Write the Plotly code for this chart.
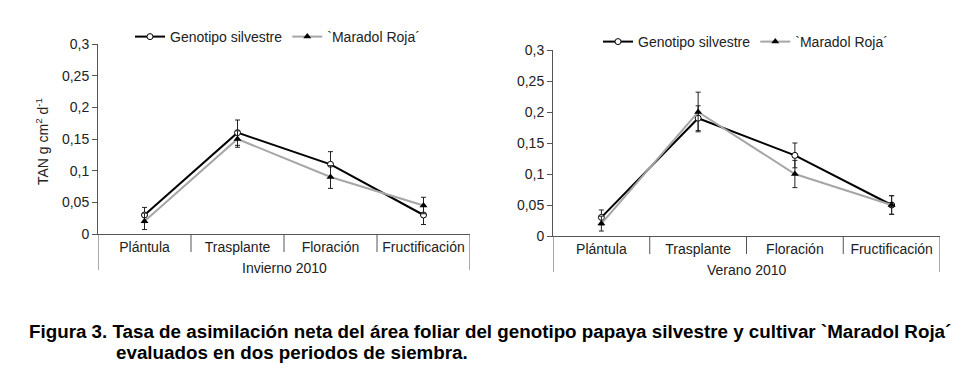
import plotly.graph_objects as go

# ---------------- data ----------------
etapas = ["Plántula", "Trasplante", "Floración", "Fructificación"]
series_names = ["Genotipo silvestre", "`Maradol Roja´"]

invierno_silvestre = [0.03, 0.16, 0.11, 0.03]
invierno_silvestre_err = [0.012, 0.02, 0.02, 0.015]
invierno_maradol = [0.02, 0.15, 0.09, 0.045]
invierno_maradol_err = [0.013, 0.013, 0.018, 0.013]

verano_silvestre = [0.03, 0.19, 0.13, 0.05]
verano_silvestre_err = [0.012, 0.02, 0.02, 0.015]
verano_maradol = [0.02, 0.20, 0.10, 0.05]
verano_maradol_err = [0.012, 0.032, 0.022, 0.015]

panel_titles = ["Invierno 2010", "Verano 2010"]
y_ticks = [0, 0.05, 0.1, 0.15, 0.2, 0.25, 0.3]
y_title = "TAN g cm<sup>2</sup> d<sup>-1</sup>"
caption1 = "Figura 3. Tasa de asimilación neta del área foliar del genotipo papaya silvestre y cultivar `Maradol Roja´"
caption2 = "evaluados en dos periodos de siembra."

# ---------------- layout constants (pixels) ----------------
W, H = 973, 387
FONT = "Liberation Sans, Arial, sans-serif"
AXC = "#555555"
TXT = "#222222"
GRAY = "#a6a6a6"

panels = [
    dict(x0=98, x1=470, ytop=44, ybot=234, data=(invierno_silvestre, invierno_silvestre_err,
                                                 invierno_maradol, invierno_maradol_err)),
    dict(x0=553, x1=940, ytop=50, ybot=236, data=(verano_silvestre, verano_silvestre_err,
                                                  verano_maradol, verano_maradol_err)),
]

fig = go.Figure()
xs = list(range(len(etapas)))
shapes = []
annotations = []

for i, p in enumerate(panels):
    ax = "" if i == 0 else str(i + 1)
    xname, yname = "x" + ax, "y" + ax
    leg = "legend" if i == 0 else "legend2"
    s, se, m, me = p["data"]
    fig.add_trace(go.Scatter(
        x=xs, y=s, mode="lines+markers", name=series_names[0],
        line=dict(color="black", width=2),
        marker=dict(symbol="circle", size=6, color="white", line=dict(color="black", width=1)),
        error_y=dict(type="data", array=se, color="#222", thickness=1, width=2.5),
        xaxis=xname, yaxis=yname, legend=leg))
    fig.add_trace(go.Scatter(
        x=xs, y=m, mode="lines+markers", name=series_names[1],
        line=dict(color=GRAY, width=2),
        marker=dict(symbol="triangle-up", size=7, color="black"),
        error_y=dict(type="data", array=me, color="#222", thickness=1, width=2.5),
        xaxis=xname, yaxis=yname, legend=leg))

    xd = [p["x0"] / W, p["x1"] / W]
    yd = [1 - p["ybot"] / H, 1 - p["ytop"] / H]
    hpx = p["ybot"] - p["ytop"]
    fig.update_layout(**{
        "xaxis" + ax: dict(domain=xd, range=[-0.5, len(etapas) - 0.5], showgrid=False,
                           zeroline=False, showline=True, linecolor=AXC, linewidth=1,
                           tickvals=xs, ticktext=etapas, ticks="", automargin=False,
                           tickfont=dict(family=FONT, size=14, color=TXT),
                           anchor=yname, fixedrange=True),
        "yaxis" + ax: dict(domain=yd, range=[0, 0.3], showgrid=False, zeroline=False,
                           showline=True, linecolor=AXC, linewidth=1, automargin=False,
                           tickvals=y_ticks, ticks="outside", ticklen=5, tickcolor=AXC,
                           tickfont=dict(family=FONT, size=14, color=TXT),
                           anchor=xname, fixedrange=True),
    })
    # category dividers below axis
    for k in range(len(etapas) + 1):
        outer = k == 0 or k == len(etapas)
        depth = 36 if outer else 18
        shapes.append(dict(type="line", xref=xname, yref=yname + " domain",
                           x0=k - 0.5, x1=k - 0.5, y0=0, y1=-depth / hpx,
                           line=dict(color=AXC, width=1)))
    annotations.append(dict(text=panel_titles[i], xref=xname + " domain", yref="paper",
                            x=0.5, y=1 - (p["ybot"] + 34) / H, yanchor="middle",
                            showarrow=False, font=dict(family=FONT, size=14, color=TXT)))

annotations.append(dict(text=y_title, textangle=-90, xref="paper", yref="paper",
                        x=31 / W, y=1 - 142 / H, showarrow=False,
                        font=dict(family=FONT, size=14, color=TXT)))
annotations.append(dict(text="<b>" + caption1 + "</b>", xref="paper", yref="paper",
                        x=27 / W, y=1 - 331 / H, xanchor="left", yanchor="middle",
                        showarrow=False, font=dict(family=FONT, size=18.8, color="black")))
annotations.append(dict(text="<b>" + caption2 + "</b>", xref="paper", yref="paper",
                        x=114 / W, y=1 - 352 / H, xanchor="left", yanchor="middle",
                        showarrow=False, font=dict(family=FONT, size=18.8, color="black")))

legend_style = dict(orientation="h", xanchor="left", yanchor="middle",
                    bgcolor="rgba(0,0,0,0)", itemwidth=30,
                    font=dict(family=FONT, size=14, color=TXT))
fig.update_layout(
    template="none",
    width=W, height=H, margin=dict(l=0, r=0, t=0, b=0, pad=0),
    paper_bgcolor="white", plot_bgcolor="white",
    separators=",.",
    showlegend=True,
    legend=dict(x=130 / W, y=1 - 37 / H, **legend_style),
    legend2=dict(x=598 / W, y=1 - 42 / H, **legend_style),
    shapes=shapes, annotations=annotations,
)

fig.write_html("out.html", config={"displayModeBar": False, "staticPlot": True},
               post_script="document.body.style.margin='0';document.body.style.overflow='hidden';")
